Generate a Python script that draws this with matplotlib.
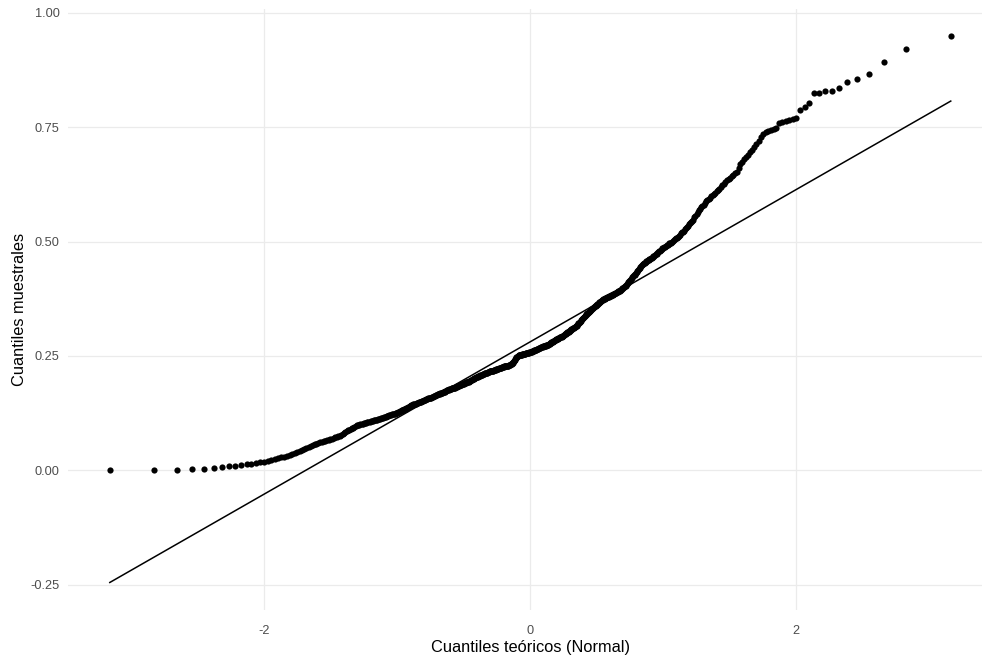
from statistics import NormalDist

import numpy as np
import matplotlib.pyplot as plt

plt.rcParams['font.family'] = ['Liberation Sans', 'DejaVu Sans']
plt.rcParams['axes.unicode_minus'] = False

# sorted sample values (n = 640)
muestra = [
    0.000, 0.000, 0.000, 0.002, 0.002, 0.004, 0.007, 0.009, 0.010, 0.012,
    0.013, 0.014, 0.016, 0.017, 0.018, 0.020, 0.022, 0.024, 0.026, 0.028,
    0.030, 0.032, 0.034, 0.036, 0.038, 0.040, 0.042, 0.044, 0.046, 0.049,
    0.051, 0.053, 0.055, 0.057, 0.058, 0.059, 0.061, 0.062, 0.064, 0.065,
    0.066, 0.067, 0.068, 0.069, 0.071, 0.072, 0.073, 0.074, 0.076, 0.078,
    0.080, 0.082, 0.084, 0.086, 0.088, 0.089, 0.091, 0.092, 0.093, 0.094,
    0.096, 0.098, 0.099, 0.100, 0.101, 0.102, 0.102, 0.103, 0.104, 0.104,
    0.105, 0.106, 0.106, 0.107, 0.108, 0.108, 0.109, 0.110, 0.110, 0.111,
    0.112, 0.112, 0.113, 0.114, 0.114, 0.115, 0.116, 0.116, 0.117, 0.118,
    0.118, 0.119, 0.120, 0.120, 0.121, 0.122, 0.122, 0.123, 0.124, 0.125,
    0.125, 0.126, 0.127, 0.128, 0.129, 0.130, 0.131, 0.132, 0.132, 0.133,
    0.134, 0.135, 0.136, 0.137, 0.138, 0.139, 0.140, 0.141, 0.142, 0.143,
    0.143, 0.144, 0.145, 0.145, 0.146, 0.147, 0.147, 0.148, 0.149, 0.149,
    0.150, 0.150, 0.151, 0.152, 0.152, 0.153, 0.154, 0.154, 0.155, 0.156,
    0.156, 0.157, 0.158, 0.158, 0.159, 0.159, 0.160, 0.161, 0.161, 0.162,
    0.162, 0.163, 0.164, 0.164, 0.165, 0.166, 0.166, 0.167, 0.167, 0.168,
    0.169, 0.169, 0.170, 0.171, 0.171, 0.172, 0.172, 0.173, 0.174, 0.175,
    0.175, 0.176, 0.176, 0.177, 0.177, 0.178, 0.178, 0.179, 0.179, 0.180,
    0.180, 0.181, 0.181, 0.182, 0.183, 0.183, 0.184, 0.184, 0.185, 0.185,
    0.186, 0.186, 0.187, 0.187, 0.188, 0.188, 0.189, 0.189, 0.190, 0.190,
    0.191, 0.192, 0.192, 0.193, 0.194, 0.194, 0.195, 0.196, 0.196, 0.197,
    0.198, 0.198, 0.199, 0.200, 0.200, 0.201, 0.202, 0.202, 0.203, 0.204,
    0.204, 0.205, 0.206, 0.206, 0.207, 0.207, 0.208, 0.208, 0.209, 0.209,
    0.210, 0.210, 0.211, 0.211, 0.212, 0.212, 0.212, 0.213, 0.213, 0.214,
    0.214, 0.215, 0.215, 0.216, 0.216, 0.216, 0.217, 0.217, 0.218, 0.218,
    0.219, 0.219, 0.219, 0.220, 0.220, 0.221, 0.221, 0.221, 0.222, 0.222,
    0.223, 0.223, 0.223, 0.224, 0.224, 0.225, 0.225, 0.225, 0.226, 0.226,
    0.227, 0.227, 0.227, 0.228, 0.228, 0.229, 0.229, 0.229, 0.230, 0.230,
    0.231, 0.231, 0.232, 0.232, 0.233, 0.234, 0.235, 0.236, 0.238, 0.240,
    0.242, 0.244, 0.246, 0.247, 0.248, 0.249, 0.250, 0.251, 0.251, 0.252,
    0.252, 0.253, 0.253, 0.253, 0.254, 0.254, 0.254, 0.255, 0.255, 0.255,
    0.255, 0.256, 0.256, 0.256, 0.256, 0.257, 0.257, 0.257, 0.258, 0.258,
    0.258, 0.259, 0.259, 0.260, 0.260, 0.261, 0.261, 0.262, 0.262, 0.263,
    0.264, 0.264, 0.265, 0.265, 0.266, 0.266, 0.267, 0.267, 0.268, 0.268,
    0.269, 0.269, 0.270, 0.270, 0.271, 0.271, 0.271, 0.272, 0.272, 0.272,
    0.273, 0.273, 0.274, 0.274, 0.275, 0.276, 0.277, 0.277, 0.278, 0.279,
    0.280, 0.280, 0.281, 0.282, 0.282, 0.283, 0.284, 0.285, 0.285, 0.286,
    0.287, 0.287, 0.288, 0.289, 0.289, 0.290, 0.291, 0.291, 0.292, 0.292,
    0.293, 0.293, 0.294, 0.295, 0.296, 0.297, 0.298, 0.299, 0.300, 0.301,
    0.302, 0.302, 0.303, 0.304, 0.305, 0.306, 0.307, 0.308, 0.309, 0.310,
    0.311, 0.311, 0.312, 0.313, 0.314, 0.315, 0.316, 0.316, 0.318, 0.319,
    0.321, 0.322, 0.324, 0.325, 0.327, 0.328, 0.330, 0.331, 0.333, 0.334,
    0.335, 0.337, 0.338, 0.339, 0.341, 0.342, 0.343, 0.344, 0.346, 0.347,
    0.348, 0.349, 0.351, 0.352, 0.353, 0.354, 0.355, 0.356, 0.358, 0.359,
    0.360, 0.361, 0.362, 0.363, 0.364, 0.366, 0.367, 0.368, 0.369, 0.370,
    0.371, 0.372, 0.373, 0.374, 0.375, 0.375, 0.376, 0.377, 0.377, 0.378,
    0.379, 0.379, 0.380, 0.381, 0.381, 0.382, 0.383, 0.383, 0.384, 0.385,
    0.385, 0.386, 0.387, 0.387, 0.388, 0.389, 0.390, 0.391, 0.392, 0.393,
    0.394, 0.395, 0.396, 0.398, 0.399, 0.400, 0.401, 0.403, 0.404, 0.405,
    0.407, 0.409, 0.411, 0.413, 0.414, 0.416, 0.418, 0.420, 0.422, 0.424,
    0.426, 0.428, 0.430, 0.432, 0.434, 0.436, 0.438, 0.440, 0.442, 0.444,
    0.446, 0.448, 0.450, 0.452, 0.453, 0.454, 0.455, 0.457, 0.458, 0.459,
    0.460, 0.462, 0.463, 0.464, 0.465, 0.466, 0.468, 0.469, 0.471, 0.472,
    0.474, 0.475, 0.477, 0.479, 0.480, 0.482, 0.483, 0.485, 0.487, 0.488,
    0.489, 0.490, 0.492, 0.493, 0.494, 0.496, 0.497, 0.498, 0.500, 0.501,
    0.503, 0.505, 0.507, 0.509, 0.511, 0.513, 0.515, 0.518, 0.520, 0.522,
    0.524, 0.527, 0.530, 0.532, 0.535, 0.538, 0.540, 0.543, 0.546, 0.548,
    0.553, 0.557, 0.561, 0.565, 0.569, 0.572, 0.575, 0.578, 0.581, 0.585,
    0.588, 0.590, 0.593, 0.596, 0.599, 0.602, 0.604, 0.607, 0.610, 0.613,
    0.616, 0.620, 0.623, 0.627, 0.630, 0.634, 0.637, 0.640, 0.643, 0.646,
    0.649, 0.652, 0.660, 0.670, 0.675, 0.680, 0.685, 0.690, 0.695, 0.700,
    0.707, 0.714, 0.721, 0.729, 0.736, 0.740, 0.742, 0.744, 0.746, 0.748,
    0.759, 0.761, 0.764, 0.767, 0.768, 0.770, 0.787, 0.794, 0.803, 0.825,
    0.825, 0.829, 0.830, 0.836, 0.848, 0.855, 0.866, 0.892, 0.921, 0.950,
]

x_ticks = [-2, 0, 2]
y_ticks = [-0.25, 0.00, 0.25, 0.50, 0.75, 1.00]

muestra = np.sort(np.array(muestra))
n = len(muestra)

# theoretical normal quantiles at ppoints (i - 0.5) / n
nd = NormalDist()
teoricos = np.array([nd.inv_cdf((i - 0.5) / n) for i in range(1, n + 1)])

# reference line through the first and third quartiles
q_m = np.quantile(muestra, [0.25, 0.75])
q_t = np.array([nd.inv_cdf(0.25), nd.inv_cdf(0.75)])
pendiente = (q_m[1] - q_m[0]) / (q_t[1] - q_t[0])
intercepto = q_m[0] - pendiente * q_t[0]
linea_x = np.array([teoricos.min(), teoricos.max()])
linea_y = intercepto + pendiente * linea_x

fig = plt.figure(figsize=(9.82, 6.55), dpi=100)
ax = fig.add_axes([0.069, 0.069, 0.942, 0.918])

ax.scatter(teoricos, muestra, s=20, color='black', linewidths=0, zorder=3)
ax.plot(linea_x, linea_y, color='black', linewidth=1.1, zorder=4)

# 5% expansion like ggplot
xr = teoricos.max() - teoricos.min()
ax.set_xlim(teoricos.min() - 0.05 * xr, teoricos.max() + 0.05 * xr)
ymin = min(muestra.min(), linea_y.min())
ymax = max(muestra.max(), linea_y.max())
yr = ymax - ymin
ax.set_ylim(ymin - 0.05 * yr, ymax + 0.05 * yr)

ax.set_xticks(x_ticks)
ax.set_yticks(y_ticks)
ax.set_xticklabels([str(t) for t in x_ticks])
ax.set_yticklabels(['%.2f' % t for t in y_ticks])
ax.tick_params(length=0, labelsize=9.2, labelcolor='#4D4D4D')
ax.tick_params(axis='x', pad=11)
ax.tick_params(axis='y', pad=6)

ax.grid(True, color='#EBEBEB', linewidth=0.9)
ax.set_axisbelow(True)
for s in ax.spines.values():
    s.set_visible(False)

ax.set_xlabel('Cuantiles teóricos (Normal)', fontsize=11.8, labelpad=2)
ax.set_ylabel('Cuantiles muestrales', fontsize=11.8, labelpad=2)

fig.savefig('out.png', dpi=100, facecolor='white')
